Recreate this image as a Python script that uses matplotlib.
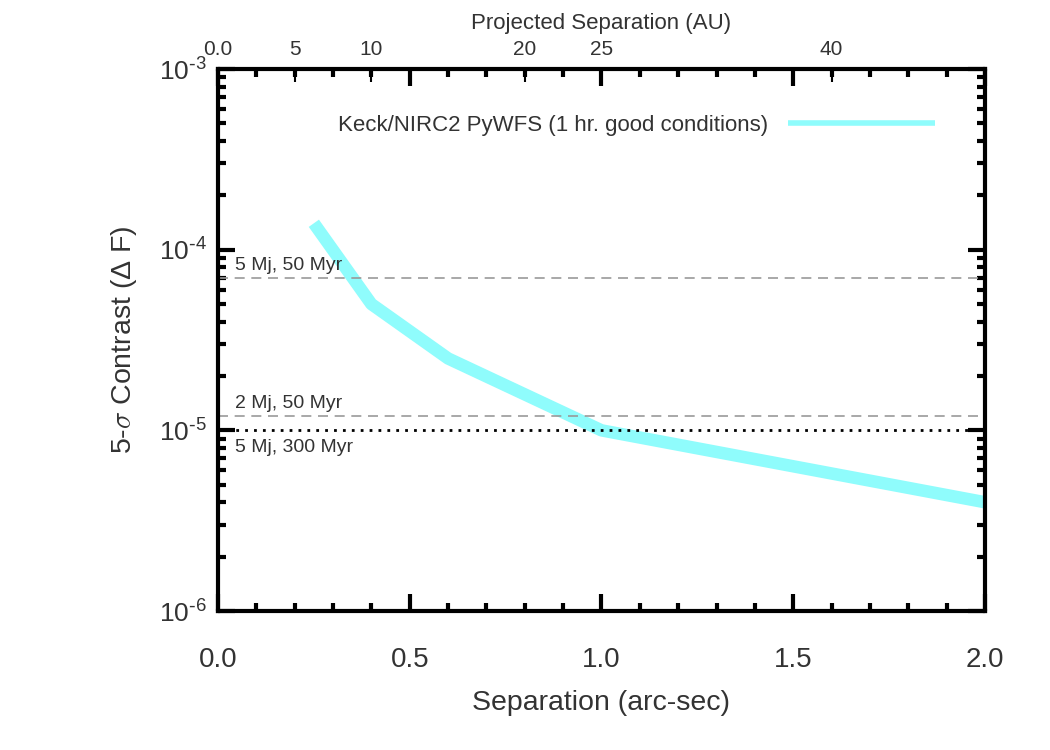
import numpy as np
import matplotlib
matplotlib.use('Agg')
import matplotlib.pyplot as plt
from matplotlib.ticker import MultipleLocator, LogLocator, NullFormatter, FuncFormatter

plt.rcParams['font.family'] = ['Liberation Sans', 'DejaVu Sans']

# contrast curve
sep = [0.25, 0.4, 0.6, 1.0, 2.0]
contrast = [1.4e-4, 5.0e-5, 2.5e-5, 1.0e-5, 4.0e-6]

# reference planet levels
levels = [7.0e-5, 1.2e-5, 1.0e-5]
level_labels = ['5 Mj, 50 Myr', '2 Mj, 50 Myr', '5 Mj, 300 Myr']

# top axis (AU at 25 pc)
dist_pc = 25.0
au_ticks = [0, 5, 10, 20, 25, 40]
au_labels = ['0.0', '5', '10', '20', '25', '40']

fig = plt.figure(figsize=(10.5, 7.5), dpi=100)
ax = fig.add_axes([0.2076, 0.1853, 0.7305, 0.7227])

ax.plot(sep, contrast, color='#8ffcfc', lw=9, solid_capstyle='butt',
        label='Keck/NIRC2 PyWFS (1 hr. good conditions)')

ax.axhline(levels[0], color='#999999', lw=1.2, ls=(0, (6, 4)))
ax.axhline(levels[1], color='#999999', lw=1.2, ls=(0, (6, 4)))
ax.axhline(levels[2], color='black', lw=2, ls=(0, (1, 2.2)))

ax.text(0.045, levels[0] * 1.05, level_labels[0], fontsize=14, color='#333333', va='bottom')
ax.text(0.045, levels[1] * 1.05, level_labels[1], fontsize=14, color='#333333', va='bottom')
ax.text(0.045, levels[2] * 0.9, level_labels[2], fontsize=14, color='#333333', va='top')

ax.set_yscale('log')
ax.set_xlim(0, 2.0)
ax.set_ylim(1e-6, 1e-3)

def log_fmt(v, pos):
    e = int(round(np.log10(v)))
    return r'$\mathdefault{10^{\text{-}%d}}$' % (-e)

ax.xaxis.set_major_locator(MultipleLocator(0.5))
ax.xaxis.set_minor_locator(MultipleLocator(0.1))
ax.xaxis.set_major_formatter(plt.FormatStrFormatter('%.1f'))
ax.yaxis.set_major_locator(LogLocator(base=10, numticks=10))
ax.yaxis.set_minor_locator(LogLocator(base=10, subs=np.arange(2, 10), numticks=10))
ax.yaxis.set_major_formatter(FuncFormatter(log_fmt))
ax.yaxis.set_minor_formatter(NullFormatter())

for s in ax.spines.values():
    s.set_linewidth(3)

ax.tick_params(which='both', direction='in', top=True, right=True, colors='black')
ax.tick_params(which='major', length=12, width=3)
ax.tick_params(which='minor', length=6, width=3)
ax.tick_params(axis='x', which='major', labelsize=20, pad=26, labelcolor='#333333')
ax.tick_params(axis='y', which='major', labelsize=19, pad=8, labelcolor='#333333')

ax.set_xlabel('Separation (arc-sec)', fontsize=20.5, color='#333333', labelpad=12)
ax.set_ylabel(r'5-$\sigma$ Contrast (Δ F)', fontsize=20.5, color='#333333', labelpad=14,
              math_fontfamily='cm')

top = ax.secondary_xaxis('top', functions=(lambda x: x * dist_pc, lambda a: a / dist_pc))
top.set_xticks(au_ticks)
top.set_xticklabels(au_labels)
top.tick_params(direction='in', length=9, width=1.5, labelsize=15, pad=7, labelcolor='#333333')
top.spines['top'].set_visible(False)
top.set_xlabel('Projected Separation (AU)', fontsize=16, color='#333333', labelpad=8)

leg = ax.legend(loc='upper right', frameon=False, fontsize=16, markerfirst=False,
                handlelength=6.6, handletextpad=0.9, borderpad=0, borderaxespad=0,
                bbox_to_anchor=(0.935, 0.916))
leg.get_lines()[0].set_linewidth(4)
for t in leg.get_texts():
    t.set_color('#333333')

fig.savefig('out.png', dpi=100)
